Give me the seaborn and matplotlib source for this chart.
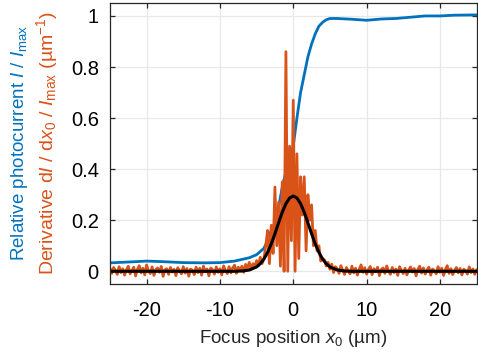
# Focus scan: relative photocurrent and its derivative with a Gaussian fit

import numpy as np
import pandas as pd
import matplotlib
matplotlib.use("Agg")
import matplotlib.pyplot as plt
import seaborn as sns


# Relative photocurrent I / Imax
blue_x = [-25, -22, -20, -18, -15, -12, -10, -8, -6, -5, -4, -3.5, -3, -2.5,
          -2, -1.5, -1, -0.5, 0, 0.5, 1, 1.5, 2, 2.5, 3, 3.5, 4, 4.5, 5, 6,
          8, 10, 12, 14, 16, 18, 20, 22, 25]
blue_y = [0.033, 0.037, 0.040, 0.038, 0.034, 0.033, 0.034, 0.040, 0.053,
          0.065, 0.090, 0.120, 0.160, 0.190, 0.250, 0.330, 0.390, 0.440,
          0.490, 0.600, 0.700, 0.770, 0.840, 0.890, 0.930, 0.960, 0.975,
          0.985, 0.990, 0.990, 0.987, 0.983, 0.988, 0.990, 0.995, 1.000,
          1.000, 1.003, 1.004]

# Derivative dI/dx0 / Imax, sampled every 0.25 um from -25 to 25
deriv_left = [
    0.012, -0.008, 0.015, 0.004, -0.012, 0.018, -0.005, 0.010, -0.015, 0.006, 0.020, -0.010,
    0.003, 0.016, -0.018, 0.008, 0.022, -0.006, 0.012, -0.014, 0.025, 0.002, -0.009, 0.017,
    -0.016, 0.007, 0.013, -0.004, 0.019, -0.020, 0.006, 0.010, -0.012, 0.015, -0.003, 0.008,
    -0.017, 0.014, 0.001, -0.010, 0.018, -0.007, 0.011, -0.019, 0.009, 0.004, -0.013, 0.016,
    -0.005, 0.012, -0.015, 0.020, -0.002, 0.009, -0.018, 0.013, 0.006, -0.011, 0.017, -0.004,
    0.010, -0.014, 0.021, 0.003, -0.009, 0.018, -0.006, 0.014, 0.024, -0.008, 0.016, 0.005,
    0.020, -0.004, 0.027, 0.012, 0.035, 0.008, 0.030, 0.018, 0.042, 0.022, 0.055, 0.030,
]
deriv_center = [
    0.05, 0.10, 0.16, 0.03, 0.18, 0.07, 0.33, 0.10, 0.27, 0.02, 0.35, 0.00,
    0.86, 0.00, 0.49, 0.12, 0.67, 0.00, 0.46, 0.05, 0.37, 0.22, 0.37, 0.08,
    0.30, 0.20, 0.26, 0.10, 0.16, 0.08, 0.10, 0.04, 0.05,
]
deriv_right = [
    0.045, 0.020, 0.035, 0.008, 0.028, -0.005, 0.018, 0.010, -0.008, 0.022, 0.004, -0.012,
    0.015, 0.002, -0.010, 0.020, -0.006, 0.012, -0.015, 0.008, 0.025, -0.004, 0.014, -0.011,
    0.006, 0.019, -0.013, 0.010, -0.002, 0.016, -0.017, 0.007, 0.013, -0.008, 0.021, 0.001,
    -0.012, 0.015, -0.005, 0.009, -0.016, 0.018, 0.004, -0.009, 0.012, -0.014, 0.006, 0.017,
    -0.003, 0.011, -0.018, 0.008, 0.020, -0.007, 0.013, -0.011, 0.005, 0.016, -0.015, 0.009,
    0.002, -0.010, 0.018, -0.004, 0.012, -0.016, 0.007, 0.022, -0.008, 0.010, -0.013, 0.004,
    0.015, -0.006, 0.011, -0.014, 0.008, 0.003, -0.011, 0.017, -0.005, 0.009, -0.012, 0.006,
]
deriv_y = deriv_left + deriv_center + deriv_right
deriv_x = np.linspace(-25, 25, len(deriv_y))

# Gaussian fit of the derivative
fit_x = [-25, -10, -8, -7, -6, -5, -4.5, -4, -3.5, -3, -2.5, -2, -1.5, -1,
         -0.5, 0, 0.5, 1, 1.5, 2, 2.5, 3, 3.5, 4, 4.5, 5, 6, 7, 8, 10, 25]
fit_y = [0.0, 0.0, 0.0, 0.001, 0.005, 0.017, 0.030, 0.048, 0.074, 0.107,
         0.147, 0.190, 0.231, 0.265, 0.287, 0.295, 0.287, 0.265, 0.231,
         0.190, 0.147, 0.107, 0.074, 0.048, 0.030, 0.017, 0.005, 0.001,
         0.0, 0.0, 0.0]

x_ticks = [-20, -10, 0, 10, 20]
y_ticks = [0, 0.2, 0.4, 0.6, 0.8, 1]
y_tick_labels = ["0", "0.2", "0.4", "0.6", "0.8", "1"]

blue = "#0072BD"
orange = "#D95319"


sns.set_style("whitegrid")
plt.rcParams["font.family"] = ["Liberation Sans", "DejaVu Sans"]
plt.rcParams["mathtext.fontset"] = "custom"
plt.rcParams["mathtext.rm"] = "Liberation Sans"
plt.rcParams["mathtext.it"] = "Liberation Sans:italic"
plt.rcParams["axes.unicode_minus"] = False

fig = plt.figure(figsize=(4.78, 3.52), dpi=100)
ax = fig.add_axes([0.230, 0.193, 0.767, 0.798])

df_blue = pd.DataFrame({"x": blue_x, "y": blue_y})
df_deriv = pd.DataFrame({"x": deriv_x, "y": deriv_y})
df_fit = pd.DataFrame({"x": fit_x, "y": fit_y})

sns.lineplot(data=df_blue, x="x", y="y", color=blue, linewidth=2.0, ax=ax)
sns.lineplot(data=df_deriv, x="x", y="y", color=orange, linewidth=2.0, ax=ax)
sns.lineplot(data=df_fit, x="x", y="y", color="black", linewidth=2.2, ax=ax)

ax.set_xlim(-25, 25)
ax.set_ylim(-0.05, 1.05)
ax.set_xticks(x_ticks)
ax.set_xticklabels([str(t) for t in x_ticks])
ax.set_yticks(y_ticks)
ax.set_yticklabels(y_tick_labels)

ax.grid(True, color="#e8e8e8", linewidth=0.9)
for side in ax.spines.values():
    side.set_color("#262626")
    side.set_linewidth(0.9)
    side.set_visible(True)

ax.tick_params(direction="in", length=3.5, width=0.9, color="#262626",
               labelsize=14.5, labelcolor="black",
               top=True, right=True, bottom=True, left=True)
ax.tick_params(axis="x", pad=12)
ax.tick_params(axis="y", pad=8)

ax.set_xlabel(r"Focus position $x_0$ (µm)", fontsize=13.5, labelpad=6)
ax.set_ylabel("")

fig.text(0.040, 0.595, r"Relative photocurrent $I$ / $I_{\rm max}$",
         rotation=90, ha="center", va="center", color=blue, fontsize=13.5)
fig.text(0.099, 0.595,
         r"Derivative d$I$ / d$x_0$ / $I_{\rm max}$ (µm$^{-1}$)",
         rotation=90, ha="center", va="center", color=orange, fontsize=14)

plt.savefig("out.png", dpi=100)
